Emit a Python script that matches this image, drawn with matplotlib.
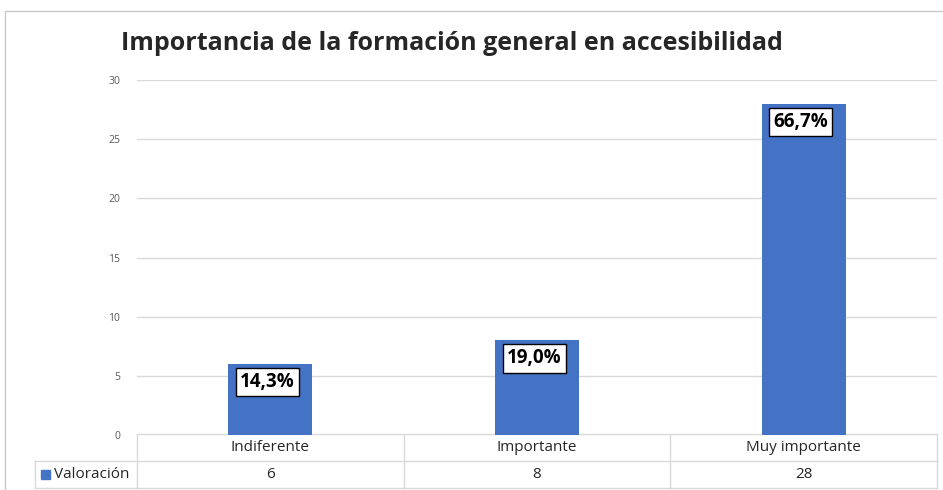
import matplotlib.pyplot as plt
from matplotlib.patches import Rectangle

# data
categorias = ['Indiferente', 'Importante', 'Muy importante']
valores = [6, 8, 28]
porcentajes = ['14,3%', '19,0%', '66,7%']
serie = 'Valoración'
titulo = 'Importancia de la formación general en accesibilidad'

azul = '#4472C4'
gris = '#d9d9d9'

plt.rcParams['font.family'] = ['Open Sans', 'DejaVu Sans']

W, H = 943, 490
fig = plt.figure(figsize=(W / 100, H / 100), dpi=100)

# plot area in pixels
left, top, right, bottom = 137, 80, 937, 435
ax = fig.add_axes([left / W, 1 - bottom / H, (right - left) / W, (bottom - top) / H])

x = [i + 0.5 for i in range(len(categorias))]
ax.bar(x, valores, width=0.315, color=azul, zorder=3)
ax.set_xlim(0, len(categorias))
ax.set_ylim(0, 30)
ax.set_yticks(range(0, 31, 5))
ax.tick_params(axis='y', length=0, labelsize=7.5, labelcolor='#595959', pad=12)
ax.set_xticks([])
ax.grid(axis='y', color=gris, linewidth=1, zorder=0)
for s in ax.spines.values():
    s.set_visible(False)

# data labels in boxes
for xi, v, p in zip(x, valores, porcentajes):
    ax.annotate(p, (xi, v), xytext=(-2, -13), textcoords='offset points',
                ha='center', va='center', fontsize=13.5, fontweight='bold',
                color='black', zorder=5,
                bbox=dict(boxstyle='square,pad=0.22', fc='white', ec='black', lw=1))

# data table under the chart
tr = ax.get_xaxis_transform()
px = (right - left) / len(categorias)
def dx(p):
    return (p - left) / px
def ay(p):
    return (bottom - p) / (bottom - top)

n = len(categorias)
y0, y1, y2 = ay(434), ay(461), ay(488)
kw = dict(color=gris, lw=1, transform=tr, clip_on=False)
ax.plot([0, n], [y0, y0], **kw)
ax.plot([dx(35), n], [y1, y1], **kw)
ax.plot([dx(35), n], [y2, y2], **kw)
ax.plot([dx(35), dx(35)], [y1, y2], **kw)
for i in range(n + 1):
    ax.plot([i, i], [y0, y2], **kw)

for xi, c, v in zip(x, categorias, valores):
    ax.text(xi, (y0 + y1) / 2, c, transform=tr, ha='center', va='center',
            fontsize=11, color='#262626')
    ax.text(xi, (y1 + y2) / 2, str(v), transform=tr, ha='center', va='center',
            fontsize=11, color='#262626')

ax.add_patch(Rectangle((dx(41), (y1 + y2) / 2 - 0.012), dx(50) - dx(41), 0.024,
                       transform=tr, color=azul, clip_on=False))
ax.text(dx(54), (y1 + y2) / 2, serie, transform=tr, ha='left', va='center',
        fontsize=11, color='#262626')

# title
fig.text(452 / W, 1 - 44 / H, titulo, ha='center', va='center',
         fontsize=18, fontweight='bold', color='#262626')

# chart frame
fig.add_artist(Rectangle((5 / W, -0.1), 1.2, 1 - 11 / H + 0.1,
                         transform=fig.transFigure, fill=False, ec='#c8c8c8', lw=1))

plt.savefig('out.png', dpi=100)
